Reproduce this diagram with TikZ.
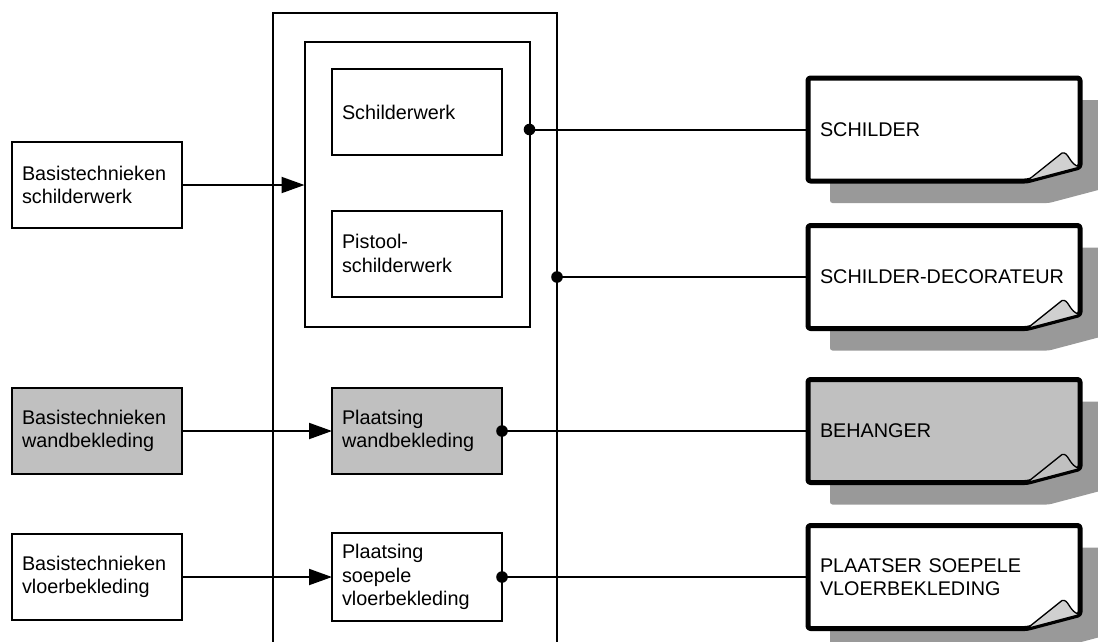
\documentclass[tikz,border=0pt]{standalone}
\usepackage{fontspec}
\setmainfont{Liberation Sans}
\usetikzlibrary{arrows.meta,calc,backgrounds}
\newcommand\bxfont{\fontsize{19.8pt}{23.3pt}\selectfont}
\definecolor{boxgray}{HTML}{C0C0C0}
\definecolor{shadowgray}{HTML}{999999}
\definecolor{foldgray}{HTML}{D0D0D0}
\tikzset{
  box/.style={draw, line width=2pt, minimum width=170pt, minimum height=86pt, text width=150pt, inner xsep=10pt, inner ysep=4pt, align=left, font=\bxfont, outer sep=0pt, fill=white},
  graybox/.style={box, fill=boxgray},
  frame/.style={draw, line width=2pt},
  docnode/.style={minimum width=272pt, minimum height=103pt, text width=248pt, inner xsep=12pt, align=left, font=\bxfont, outer sep=0pt},
  conn/.style={line width=2pt},
  arr/.style={conn, -{Triangle[length=23pt,width=16pt]}},
  dotfill/.style={fill=black},
  docline/.style={line width=5pt, rounded corners=2.5pt, line join=round},
  docshadow/.style={fill=shadowgray, rounded corners=2.5pt},
  fold/.style={line width=1.3pt, line join=round},
}
\newcommand\drawdoc[3]{%
  \fill[docshadow] ($(#1.north west)+(22,22)$) -- ($(#1.north east)+(22,22)$) -- ($(#1.south east)+(22,8)$) -- ($(#1.south east)+(-31,22)$) -- ($(#1.south west)+(22,22)$) -- cycle;
  \draw[docline, fill=#2] (#1.north west) -- (#1.north east) -- ($(#1.south east)+(0,-14)$) -- ($(#1.south east)+(-53,0)$) -- (#1.south west) -- cycle;
  \filldraw[fold, fill=#3] ($(#1.south east)+(-53,0)$) -- ($(#1.south east)+(-18,-28)$) .. controls ($(#1.south east)+(-11,-30)$) and ($(#1.south east)+(-11,-16)$) .. ($(#1.south east)+(0,-14)$) -- cycle;
}
\begin{document}
\begin{tikzpicture}[x=1pt,y=-1pt]
\useasboundingbox (0,0) rectangle (1098,641);
\clip (0,0) rectangle (1098,641);

% outer open frame
\coordinate (oBL) at (272.5,645);
\coordinate (oTR) at (557,13);
\coordinate (oBR) at (557,645);
\draw[frame] (oBL) |- (oTR) -- (oBR);

% inner frame
\node[frame, minimum width=225pt, minimum height=285pt, outer sep=0pt] (inner) at (417,184.5) {};

% left boxes
\node[box] (lb1) at (97,185) {Basistechnieken\\schilderwerk};
\node[graybox] (lb2) at (97,431) {Basistechnieken\\wandbekleding};
\node[box] (lb3) at (97,577) {Basistechnieken\\vloerbekleding};

% middle boxes
\node[box] (mb1) at (417,112) {Schilderwerk};
\node[box] (mb2) at (417,253.5) {Pistool-\\schilderwerk};
\node[graybox] (mb3) at (417,431) {Plaatsing\\wandbekleding};
\node[box, minimum height=88pt] (mb4) at (417,577) {Plaatsing\\soepele\\vloerbekleding};

% documents
\node[docnode] (d1) at (944,129.5) {SCHILDER};
\node[docnode] (d2) at (944,277) {SCHILDER-DECORATEUR};
\node[docnode] (d3) at (944,431) {BEHANGER};
\node[docnode] (d4) at (944,577) {PLAATSER SOEPELE\\VLOERBEKLEDING};

\begin{pgfonlayer}{background}
  \drawdoc{d1}{white}{foldgray}
  \drawdoc{d2}{white}{foldgray}
  \drawdoc{d3}{boxgray}{boxgray}
  \drawdoc{d4}{white}{foldgray}
\end{pgfonlayer}

% arrows
\draw[arr] (lb1.east) -- (lb1.east -| inner.west);
\draw[arr] (lb2.east) -- (mb3.west);
\draw[arr] (lb3.east) -- (mb4.west);

% dot connectors
\draw[conn] (inner.east |- d1.west) -- (d1.west);
\fill[dotfill] (inner.east |- d1.west) circle (5.8);
\draw[conn] (oBR |- d2.west) -- (d2.west);
\fill[dotfill] (oBR |- d2.west) circle (5.8);
\draw[conn] (mb3.east) -- (d3.west);
\fill[dotfill] (mb3.east) circle (5.8);
\draw[conn] (mb4.east) -- (d4.west);
\fill[dotfill] (mb4.east) circle (5.8);
\end{tikzpicture}
\end{document}
